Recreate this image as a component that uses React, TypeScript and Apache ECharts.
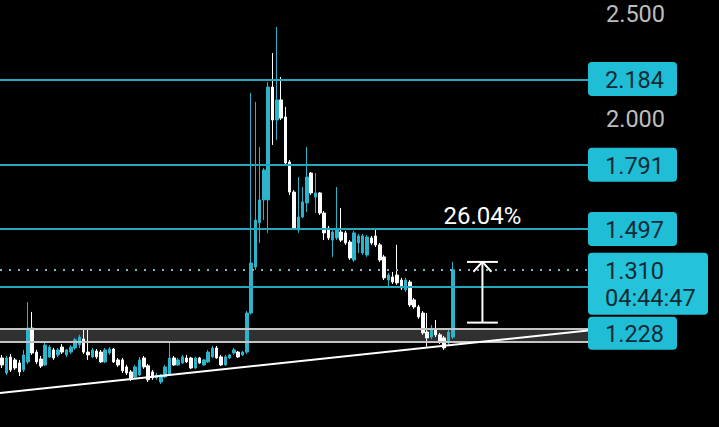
import React, { useEffect, useRef } from "react";
import * as echarts from "echarts";

// ---- data ----
const opens = [
  0.906, 0.837, 0.91, 0.897, 0.883, 0.851, 0.888, 1.043, 0.933, 0.901,
  0.874, 0.91, 0.943, 0.92, 0.956, 0.92, 0.933, 0.952, 0.966, 0.993,
  0.933, 0.911, 0.938, 0.933, 0.888, 0.929, 0.947, 0.897, 0.897, 0.865,
  0.842, 0.819, 0.828, 0.906, 0.87, 0.842, 0.815, 0.796, 0.819, 0.828,
  0.906, 0.874, 0.883, 0.906, 0.906, 0.86, 0.906, 0.874, 0.888, 0.911,
  0.952, 0.911, 0.874, 0.906, 0.929, 0.933, 0.92, 0.933, 1.112, 1.323,
  1.525, 1.63, 1.63, 2.147, 1.996, 2.088, 2.01, 1.804, 1.666, 1.492,
  1.552, 1.616, 1.753, 1.643, 1.662, 1.57, 1.501, 1.446, 1.456, 1.483,
  1.479, 1.437, 1.355, 1.433, 1.387, 1.378, 1.456, 1.465, 1.424, 1.369,
  1.263, 1.277, 1.286, 1.263, 1.218, 1.254, 1.172, 1.14, 1.112, 1.025,
  1.002, 1.034, 1.012, 0.998, 0.975, 1.002,
];
const closes = [
  0.874, 0.906, 0.851, 0.86, 0.842, 0.92, 1.043, 0.929, 0.888, 0.869,
  0.965, 0.956, 0.906, 0.943, 0.933, 0.943, 0.956, 0.989, 1.002, 0.933,
  0.92, 0.943, 0.911, 0.888, 0.943, 0.947, 0.888, 0.874, 0.847, 0.837,
  0.81, 0.865, 0.897, 0.865, 0.806, 0.815, 0.828, 0.828, 0.865, 0.906,
  0.874, 0.897, 0.911, 0.888, 0.86, 0.906, 0.883, 0.897, 0.933, 0.952,
  0.906, 0.874, 0.911, 0.92, 0.943, 0.911, 0.933, 1.112, 1.341, 1.538,
  1.63, 1.767, 2.147, 1.996, 2.088, 2.005, 1.799, 1.666, 1.501, 1.552,
  1.621, 1.735, 1.662, 1.662, 1.57, 1.479, 1.456, 1.483, 1.492, 1.446,
  1.433, 1.364, 1.479, 1.465, 1.465, 1.46, 1.433, 1.424, 1.355, 1.273,
  1.286, 1.254, 1.25, 1.227, 1.263, 1.149, 1.14, 1.094, 1.021, 0.998,
  1.043, 1.012, 0.98, 0.952, 1.025, 1.31,
];
const lows = [
  0.86, 0.828, 0.842, 0.851, 0.823, 0.842, 0.878, 0.92, 0.878, 0.86,
  0.869, 0.906, 0.897, 0.91, 0.924, 0.91, 0.924, 0.943, 0.952, 0.924,
  0.897, 0.906, 0.902, 0.883, 0.883, 0.92, 0.883, 0.865, 0.837, 0.828,
  0.801, 0.815, 0.824, 0.856, 0.796, 0.806, 0.806, 0.787, 0.815, 0.824,
  0.87, 0.87, 0.879, 0.883, 0.856, 0.856, 0.879, 0.87, 0.883, 0.906,
  0.902, 0.87, 0.87, 0.902, 0.92, 0.906, 0.915, 0.924, 1.105, 1.309,
  1.433, 1.538, 1.479, 1.882, 1.905, 1.996, 1.79, 1.653, 1.492, 1.479,
  1.547, 1.575, 1.653, 1.57, 1.561, 1.446, 1.446, 1.369, 1.446, 1.437,
  1.424, 1.355, 1.346, 1.387, 1.378, 1.369, 1.424, 1.414, 1.346, 1.263,
  1.227, 1.245, 1.241, 1.218, 1.209, 1.14, 1.131, 1.085, 1.012, 0.957,
  0.993, 1.002, 0.97, 0.943, 0.966, 0.993,
];
const highs = [
  0.92, 0.915, 0.924, 0.906, 0.897, 0.943, 1.162, 1.117, 0.943, 0.915,
  0.975, 0.965, 0.952, 0.952, 0.97, 0.947, 0.965, 0.998, 1.012, 1.035,
  1.039, 0.952, 0.947, 0.943, 0.952, 0.956, 0.952, 0.906, 0.906, 0.874,
  0.851, 0.874, 0.911, 0.915, 0.879, 0.851, 0.838, 0.833, 0.874, 0.98,
  0.915, 0.906, 0.92, 0.92, 0.911, 0.911, 0.911, 0.901, 0.943, 0.961,
  0.961, 0.92, 0.92, 0.924, 0.952, 0.938, 0.938, 1.121, 2.12, 2.079,
  1.872, 1.776, 2.17, 2.303, 2.422, 2.193, 2.056, 1.813, 1.675, 1.735,
  1.689, 1.872, 1.758, 1.753, 1.666, 1.579, 1.511, 1.492, 1.689, 1.593,
  1.488, 1.446, 1.488, 1.474, 1.474, 1.469, 1.465, 1.497, 1.433, 1.378,
  1.295, 1.3, 1.424, 1.273, 1.273, 1.263, 1.181, 1.149, 1.121, 1.112,
  1.057, 1.08, 1.021, 1.007, 1.034, 1.346,
];

const categoryCount = 137;
const levelValues = [2.184, 1.791, 1.497];
const levelLabels = ["2.184", "1.791", "1.497"];
const supportValue = 1.228;
const supportLabel = "1.228";
const currentValue = 1.31;
const currentLabel = "1.310";
const countdownLabel = "04:44:47";
const tickValues = [2.5, 2.0];
const tickLabels = ["2.500", "2.000"];
const bandLow = 0.983;
const bandHigh = 1.039;
const trendPoints = [
  [-0.5, 0.746],
  [136.5, 1.032],
];
const measureX = 111.9;
const measureCapHalf = 3.6;
const measureArrowHalf = 2.1;
const measureLow = 1.068;
const measureHigh = 1.346;
const measureArrowDrop = 0.045;
const measureText = "26.04%";

const CYAN = "#2bb4cc";
const LINE = "#25a7bd";
const BOX = "#20bdd6";
const BOXTEXT = "#0e2c36";
const FONT = "Roboto";

export default function App() {
  const ref = useRef<HTMLDivElement>(null);

  useEffect(() => {
    document.body.style.margin = "0";
    document.body.style.background = "#000";
    const chart = echarts.init(ref.current as HTMLDivElement, null, { renderer: "svg" });
    const candleData = opens.map((o, i) => [o, closes[i], lows[i], highs[i]]);
    const white = { color: "#ffffff", width: 2 };
    const seg = (pts: number[][]) => ({
      type: "line",
      xAxisIndex: 1,
      yAxisIndex: 0,
      data: pts,
      symbol: "none",
      silent: true,
      lineStyle: white,
      z: 6,
    });
    chart.setOption({
      animation: false,
      backgroundColor: "#000",
      grid: { left: 0, right: 131, top: 0, bottom: 0 },
      xAxis: [
        {
          type: "category",
          data: Array.from({ length: categoryCount }, (_, i) => String(i)),
          boundaryGap: true,
          show: false,
        },
        { type: "value", min: -0.5, max: categoryCount - 0.5, show: false },
      ],
      yAxis: { type: "value", min: 0.5898, max: 2.5458, show: false, splitLine: { show: false } },
      series: [
        {
          type: "line",
          xAxisIndex: 1,
          data: [],
          z: 1,
          markArea: {
            silent: true,
            itemStyle: { color: "#303030" },
            data: [[{ yAxis: bandLow }, { yAxis: bandHigh }]],
          },
          markLine: {
            silent: true,
            symbol: ["none", "none"],
            label: { show: false },
            data: [
              ...levelValues.map((v) => ({ yAxis: v, lineStyle: { color: LINE, width: 2, type: "solid" } })),
              { yAxis: supportValue, lineStyle: { color: LINE, width: 2, type: "solid" } },
              { yAxis: currentValue, lineStyle: { color: "#7db4be", width: 2, type: [2, 7] } },
              { yAxis: bandLow, lineStyle: { color: "#c4c4c4", width: 2, type: "solid" } },
              { yAxis: bandHigh, lineStyle: { color: "#c4c4c4", width: 2, type: "solid" } },
            ],
          },
        },
        {
          type: "candlestick",
          xAxisIndex: 0,
          data: candleData,
          barWidth: 3,
          z: 4,
          itemStyle: {
            color: CYAN,
            color0: "#ffffff",
            borderColor: CYAN,
            borderColor0: "#ffffff",
            borderWidth: 1,
          },
        },
        seg(trendPoints),
        seg([
          [measureX, measureLow],
          [measureX, measureHigh],
        ]),
        seg([
          [measureX - measureCapHalf, measureHigh],
          [measureX + measureCapHalf, measureHigh],
        ]),
        seg([
          [measureX - measureCapHalf, measureLow],
          [measureX + measureCapHalf, measureLow],
        ]),
        seg([
          [measureX - measureArrowHalf, measureHigh - measureArrowDrop],
          [measureX, measureHigh],
          [measureX + measureArrowHalf, measureHigh - measureArrowDrop],
        ]),
      ],
    });

    const yPix = (v: number) => chart.convertToPixel({ yAxisIndex: 0 }, v) as unknown as number;
    const xPix = (v: number) => chart.convertToPixel({ xAxisIndex: 1 }, v) as unknown as number;
    const right = xPix(categoryCount - 0.5);
    const textEl = (x: number, y: number, text: string, fill: string, size = 23.5, align = "left") => ({
      type: "text",
      x,
      y,
      z: 20,
      style: {
        text,
        fill,
        fontSize: size,
        fontFamily: FONT,
        lineHeight: 20,
        textAlign: align,
        textVerticalAlign: "middle",
        verticalAlign: "middle",
      },
    });
    const g: any[] = [];
    tickValues.forEach((v, i) => g.push(textEl(right + 18, Math.max(yPix(v), 14), tickLabels[i], "#bdbdbd")));
    levelValues.forEach((v, i) => {
      const yc = yPix(v);
      g.push({ type: "rect", z: 19, shape: { x: right, y: yc - 17, width: 89, height: 34, r: 4 }, style: { fill: BOX } });
      g.push(textEl(right + 17, yc + 1, levelLabels[i], BOXTEXT));
    });
    const yc = yPix(currentValue);
    g.push({ type: "rect", z: 19, shape: { x: right, y: yc - 17, width: 120, height: 62, r: 4 }, style: { fill: "#25c3da" } });
    g.push(textEl(right + 17, yc + 1, currentLabel, BOXTEXT));
    g.push(textEl(right + 17, yc + 28, countdownLabel, BOXTEXT));
    const sTop = yc + 47;
    g.push({ type: "rect", z: 19, shape: { x: right, y: sTop, width: 89, height: 33, r: 4 }, style: { fill: BOX } });
    g.push(textEl(right + 17, sTop + 17, supportLabel, BOXTEXT));
    g.push(textEl(xPix(measureX), yPix(measureHigh) - 46, measureText, "#ffffff", 24, "center"));
    chart.setOption({ graphic: g });

    return () => chart.dispose();
  }, []);

  return (
    <div
      ref={ref}
      style={{ position: "fixed", left: 0, top: 0, width: 719, height: 427, background: "#000" }}
    />
  );
}
